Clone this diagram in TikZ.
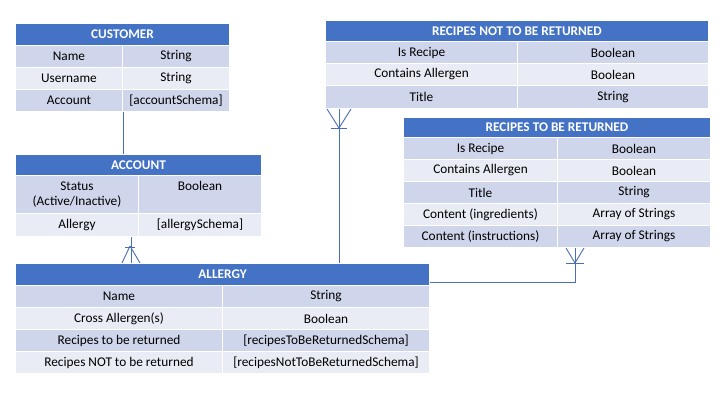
\documentclass[tikz,border=0pt]{standalone}
\usepackage{fontspec}
\setmainfont{Carlito}
\definecolor{hdrblue}{HTML}{4472C4}
\definecolor{rowdark}{HTML}{CFD5EA}
\definecolor{rowlight}{HTML}{E9EBF5}
\definecolor{linkblue}{HTML}{4A6FB5}
\begin{document}
\begin{tikzpicture}[x=1pt,y=-1pt,
  cell/.style={rectangle,anchor=north west,inner sep=0pt,draw=white,line width=1pt,
    font=\fontsize{13.3}{15}\selectfont,align=center},
  hdr/.style={cell,fill=hdrblue,text=white,font=\fontsize{13.3}{15}\selectfont\bfseries},
  rdark/.style={cell,fill=rowdark},
  rlight/.style={cell,fill=rowlight},
  link/.style={draw=linkblue,line width=0.9pt}]
\useasboundingbox (0,0) rectangle (720,405);
\fill[white] (0,0) rectangle (720,405);

% CUSTOMER
\node[hdr,minimum width=214pt,minimum height=22pt] (cusH) at (15,23) {CUSTOMER};
\node[rdark,minimum width=107pt,minimum height=22pt] (cus1a) at (15,45) {Name};
\node[rdark,minimum width=107pt,minimum height=22pt] (cus1b) at (122,45) {String};
\node[rlight,minimum width=107pt,minimum height=22pt] (cus2a) at (15,67) {Username};
\node[rlight,minimum width=107pt,minimum height=22pt] (cus2b) at (122,67) {String};
\node[rdark,minimum width=107pt,minimum height=22pt] (cus3a) at (15,89) {Account};
\node[rdark,minimum width=107pt,minimum height=22pt] (cus3b) at (122,89) {[accountSchema]};

% ACCOUNT
\node[hdr,minimum width=246pt,minimum height=21pt] (accH) at (15,154) {ACCOUNT};
\node[rdark,minimum width=123pt,minimum height=38pt] (acc1a) at (15,175) {Status\\(Active/Inactive)};
\node[rdark,minimum width=123pt,minimum height=38pt] (acc1b) at (138,175) {Boolean\\\phantom{(Active/Inactive)}};
\node[rlight,minimum width=123pt,minimum height=23pt] (acc2a) at (15,213) {Allergy};
\node[rlight,minimum width=123pt,minimum height=23pt] (acc2b) at (138,213) {[allergySchema]};

% ALLERGY
\node[hdr,minimum width=414pt,minimum height=22pt] (algH) at (15,263) {ALLERGY};
\node[rdark,minimum width=207pt,minimum height=22pt] (alg1a) at (15,285) {Name};
\node[rdark,minimum width=207pt,minimum height=22pt] (alg1b) at (222,285) {String};
\node[rlight,minimum width=207pt,minimum height=22pt] (alg2a) at (15,307) {Cross Allergen(s)};
\node[rlight,minimum width=207pt,minimum height=22pt] (alg2b) at (222,307) {Boolean};
\node[rdark,minimum width=207pt,minimum height=22pt] (alg3a) at (15,329) {Recipes to be returned};
\node[rdark,minimum width=207pt,minimum height=22pt] (alg3b) at (222,329) {[recipesToBeReturnedSchema]};
\node[rlight,minimum width=207pt,minimum height=22pt] (alg4a) at (15,351) {Recipes NOT to be returned};
\node[rlight,minimum width=207pt,minimum height=22pt] (alg4b) at (222,351) {[recipesNotToBeReturnedSchema]};

% RECIPES NOT TO BE RETURNED
\node[hdr,minimum width=383pt,minimum height=21pt] (rnH) at (325,20) {RECIPES NOT TO BE RETURNED};
\node[rdark,minimum width=192pt,minimum height=22pt] (rn1a) at (325,41) {Is Recipe};
\node[rdark,minimum width=191pt,minimum height=22pt] (rn1b) at (517,41) {Boolean};
\node[rlight,minimum width=192pt,minimum height=22pt] (rn2a) at (325,63) {Contains Allergen};
\node[rlight,minimum width=191pt,minimum height=22pt] (rn2b) at (517,63) {Boolean};
\node[rdark,minimum width=192pt,minimum height=23pt] (rn3a) at (325,85) {Title};
\node[rdark,minimum width=191pt,minimum height=23pt] (rn3b) at (517,85) {String};

% RECIPES TO BE RETURNED
\node[hdr,minimum width=307pt,minimum height=20pt] (rtH) at (403,117) {RECIPES TO BE RETURNED};
\node[rdark,minimum width=154pt,minimum height=22pt] (rt1a) at (403,137) {Is Recipe};
\node[rdark,minimum width=153pt,minimum height=22pt] (rt1b) at (557,137) {Boolean};
\node[rlight,minimum width=154pt,minimum height=22pt] (rt2a) at (403,159) {Contains Allergen};
\node[rlight,minimum width=153pt,minimum height=22pt] (rt2b) at (557,159) {Boolean};
\node[rdark,minimum width=154pt,minimum height=22pt] (rt3a) at (403,181) {Title};
\node[rdark,minimum width=153pt,minimum height=22pt] (rt3b) at (557,181) {String};
\node[rlight,minimum width=154pt,minimum height=22pt] (rt4a) at (403,203) {Content (ingredients)};
\node[rlight,minimum width=153pt,minimum height=22pt] (rt4b) at (557,203) {Array of Strings};
\node[rdark,minimum width=154pt,minimum height=22pt] (rt5a) at (403,225) {Content (instructions)};
\node[rdark,minimum width=153pt,minimum height=22pt] (rt5b) at (557,225) {Array of Strings};

% Customer -- Account
\draw[link] (cus3a.south east) -- (cus3a.south east |- accH.north);

% Account -- Allergy (crow's foot at allergy)
\coordinate (c1) at ([xshift=-8pt]acc2a.south east);
\coordinate (c1b) at (c1 |- algH.north);
\draw[link] (c1) -- (c1b);
\draw[link] (125,247) -- (135,247);
\draw[link] (130,246) -- ([xshift=-9pt]c1b);
\draw[link] (130,246) -- ([xshift=9pt]c1b);

% Allergy -- Recipes NOT (crow's foot at recipes not)
\coordinate (c2) at ([xshift=14pt]rn3a.south west);
\coordinate (c2b) at (c2 |- algH.north);
\draw[link] (c2) -- (c2b);
\draw[link] (331,128) -- (347,128);
\draw[link] ([xshift=-12pt]c2) -- (339,128);
\draw[link] ([xshift=12pt]c2) -- (339,128);

% Allergy -- Recipes TO (crow's foot at recipes to)
\coordinate (c3) at ([xshift=18pt]rt5b.south west);
\coordinate (c3b) at (algH.north east |- 0,282);
\draw[link] (c3b) -| (c3);
\draw[link] (566,263) -- (584,263);
\draw[link] ([xshift=-9pt]c3) -- (575,263);
\draw[link] ([xshift=9pt]c3) -- (575,263);
\end{tikzpicture}
\end{document}
